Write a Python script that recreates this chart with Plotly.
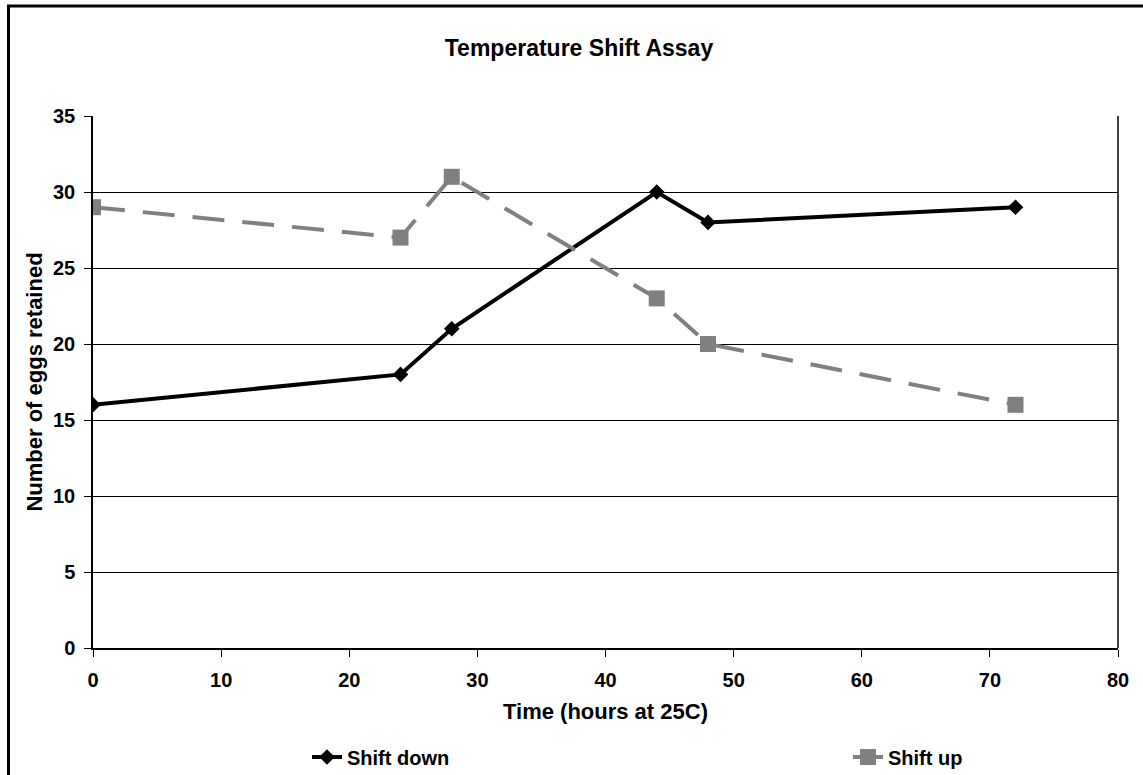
import plotly.graph_objects as go

# Sampling times (hours at 25C) and eggs retained for each shift direction
hours = [0, 24, 28, 44, 48, 72]
shift_down = [16, 18, 21, 30, 28, 29]
shift_up = [29, 27, 31, 23, 20, 16]

x_ticks = [0, 10, 20, 30, 40, 50, 60, 70, 80]
y_ticks = [0, 5, 10, 15, 20, 25, 30, 35]

FONT = "Liberation Sans, Arial, Helvetica, sans-serif"
GREY = "#808080"
W, H = 1143, 775
L, R, T, B = 93, 25, 116, 127
PW, PH = W - L - R, H - T - B


def px_x(p):
    """Pixel column -> paper x."""
    return (p - L) / PW


def px_y(p):
    """Pixel row -> paper y."""
    return (H - B - p) / PH


fig = go.Figure()

fig.add_trace(go.Scatter(
    x=hours, y=shift_down, name="<b>Shift down</b>", mode="lines+markers",
    line=dict(color="black", width=4),
    marker=dict(symbol="diamond", size=12, color="black"),
    legend="legend",
))

fig.add_trace(go.Scatter(
    x=hours, y=shift_up, name="<b>Shift up</b>", mode="lines+markers",
    line=dict(color=GREY, width=4, dash="32px,18px"),
    marker=dict(symbol="square", size=16, color=GREY),
    legend="legend2",
))

# Legends are placed relative to the whole page so they sit in the bottom band
legend_common = dict(
    orientation="h", xanchor="left", yanchor="middle",
    yref="container", y=1 - 757 / H,
    font=dict(size=20, family=FONT, color="black"),
    bgcolor="rgba(0,0,0,0)", borderwidth=0,
)

fig.update_layout(
    width=W, height=H,
    margin=dict(l=L, r=R, t=T, b=B),
    paper_bgcolor="white", plot_bgcolor="white",
    font=dict(family=FONT, color="black", size=20),
    title=dict(
        text="<b>Temperature Shift Assay</b>",
        x=px_x(579), xref="paper", xanchor="center",
        y=1 - 48 / H, yref="container", yanchor="middle",
        font=dict(size=23, family=FONT, color="black"),
    ),
    showlegend=True,
    legend=dict(x=307 / W, xref="container", **legend_common),
    legend2=dict(x=848 / W, xref="container", **legend_common),
)

fig.update_xaxes(
    range=[0, 80], tickvals=x_ticks, ticktext=[f"<b>{v}</b>" for v in x_ticks],
    showgrid=False, zeroline=False,
    showline=True, linecolor="black", linewidth=1.5, mirror=False,
    ticks="outside", ticklen=7, tickcolor="black", tickwidth=1,
    ticklabelstandoff=6,
    tickfont=dict(size=20, family=FONT, color="black"),
    title=dict(text="<b>Time (hours at 25C)</b>", standoff=14,
               font=dict(size=22, family=FONT, color="black")),
)

fig.update_yaxes(
    range=[0, 35], tickvals=y_ticks, ticktext=[f"<b>{v}</b>" for v in y_ticks],
    showgrid=True, gridcolor="black", gridwidth=1, zeroline=False,
    showline=True, linecolor="black", linewidth=1.5,
    ticks="outside", ticklen=7, tickcolor="black", tickwidth=1,
    ticklabelstandoff=5,
    tickfont=dict(size=20, family=FONT, color="black"),
    title=dict(text="<b>Number of eggs retained</b>", standoff=4,
               font=dict(size=22, family=FONT, color="black")),
)

# Right edge of the plotting area
fig.add_shape(type="line", xref="paper", yref="paper",
              x0=1, x1=1, y0=0, y1=1, line=dict(color="black", width=1.5))

# Heavy frame around the whole chart
fig.add_shape(type="rect", xref="paper", yref="paper",
              x0=px_x(8.5), x1=px_x(1150), y0=px_y(780), y1=px_y(6),
              line=dict(color="black", width=3), layer="above")

fig.write_html("out.html")
